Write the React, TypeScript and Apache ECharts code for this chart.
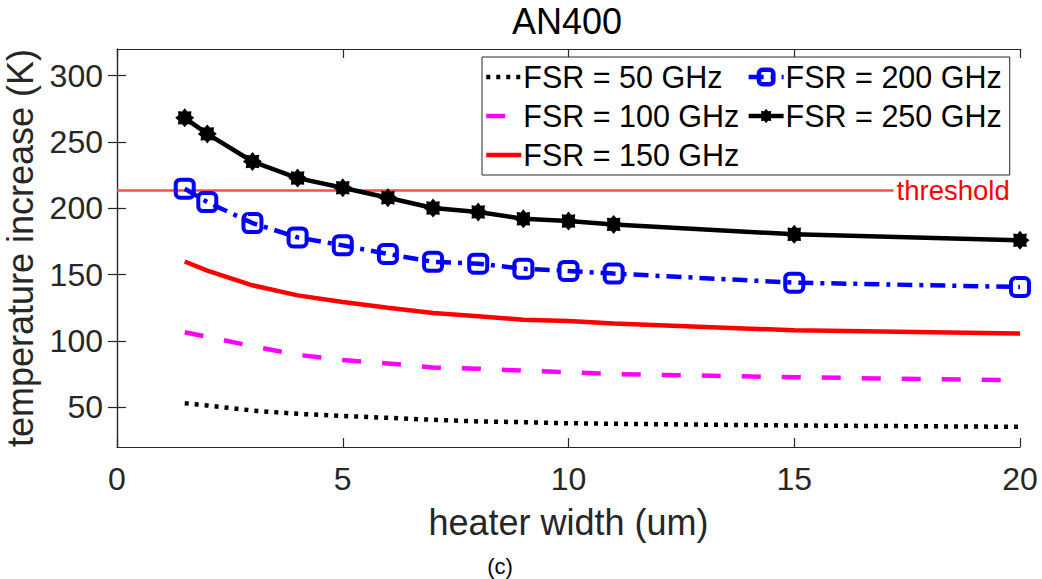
import React, { useEffect, useRef } from "react";
import * as echarts from "echarts";

const widths = [1.5, 2, 3, 4, 5, 6, 7, 8, 9, 10, 11, 15, 20];
const fsr50 = [53, 51.3, 47.5, 45, 43.4, 42, 40.5, 39.3, 38.7, 37.9, 37.5, 36.2, 35.2];
const fsr100 = [106.5, 103, 96, 89.5, 85.5, 83, 80, 79, 77.5, 76.4, 75, 72.6, 70.3];
const fsr150 = [159.8, 153, 141.9, 134.3, 129.3, 125, 121, 118.5, 116, 115, 113, 108, 105.5];
const fsr200 = [214.7, 204.6, 188.8, 178, 172, 165.5, 159.6, 158.2, 154.4, 152.7, 150.7, 143.9, 140.6];
const fsr250 = [268.1, 256, 235.2, 222.7, 215.4, 207.9, 200.1, 197.1, 192, 190.3, 187.8, 180.3, 175.8];
const thresholdValue = 213.3;
const thresholdEnd = 17.2;
const xTicks = [0, 5, 10, 15, 20];
const yTicks = [50, 100, 150, 200, 250, 300];
const seriesNames = ["FSR = 50 GHz", "FSR = 100 GHz", "FSR = 150 GHz", "FSR = 200 GHz", "FSR = 250 GHz"];

const FONT = "'Liberation Sans', Arial, Helvetica, sans-serif";
const AXIS_COLOR = "#262626";

const starPath = (() => {
  const pts: string[] = [];
  for (let k = 0; k < 16; k++) {
    const a = (k * Math.PI) / 8;
    const r = k % 2 === 0 ? 10 : 7.2;
    pts.push(`${(10 + r * Math.cos(a)).toFixed(2)} ${(10 + r * Math.sin(a)).toFixed(2)}`);
  }
  return "path://M" + pts.join(" L") + " Z";
})();

const pair = (ys: number[]) => widths.map((x, i) => [x, ys[i]]);

export default function App() {
  const ref = useRef<HTMLDivElement>(null);
  useEffect(() => {
    document.body.style.margin = "0";
    if (!ref.current) return;
    const chart = echarts.init(ref.current, undefined, { renderer: "svg" });
    const axisLine = { show: true, lineStyle: { color: AXIS_COLOR, width: 1.2 } };
    const tick = { show: true, inside: true, length: 9, lineStyle: { color: AXIS_COLOR, width: 1.2 } };
    const legendLineTypes: any[] = [[4, 6], [19, 21], "solid", [15, 7, 4, 7], "solid"];
    chart.setOption({
      animation: false,
      backgroundColor: "#ffffff",
      grid: { left: 117, right: 22, top: 49, bottom: 132, containLabel: false, outerBoundsMode: "none" },
      graphic: [
        {
          type: "text",
          x: 567,
          y: 21,
          style: { text: "AN400", font: `36px ${FONT}`, fill: "#000", textAlign: "center", textVerticalAlign: "middle" },
        },
        {
          type: "text",
          x: 500,
          y: 566,
          style: { text: "(c)", font: `22px ${FONT}`, fill: "#000", textAlign: "center", textVerticalAlign: "middle" },
        },
      ],
      legend: {
        data: seriesNames.map((name, i) => {
          const item: any = { name, lineStyle: { width: 4.5, type: legendLineTypes[i] } };
          if (i < 3) item.itemStyle = { opacity: 0 };
          if (i === 3) item.itemStyle = { borderWidth: 4.5 };
          return item;
        }),
        orient: "vertical",
        left: 482,
        top: 57,
        height: 118,
        padding: [4, 8, 4, 2],
        itemGap: 7,
        itemWidth: 35,
        itemHeight: 18,
        borderColor: "#262626",
        borderWidth: 1,
        backgroundColor: "#ffffff",
        textStyle: { fontSize: 30.5, fontFamily: FONT, color: "#000", lineHeight: 32, padding: [0, 0, 0, -3] },
      },
      xAxis: [
        {
          type: "value",
          min: 0,
          max: 20,
          interval: 5,
          position: "bottom",
          name: "heater width (um)",
          nameLocation: "middle",
          nameGap: 57,
          nameTextStyle: { fontSize: 36, fontFamily: FONT, color: AXIS_COLOR },
          axisLine,
          axisTick: tick,
          splitLine: { show: false },
          axisLabel: { fontSize: 32, fontFamily: FONT, color: AXIS_COLOR, margin: 16 },
        },
        {
          type: "value",
          min: 0,
          max: 20,
          interval: 5,
          position: "top",
          axisLine,
          axisTick: tick,
          splitLine: { show: false },
          axisLabel: { show: false },
        },
      ],
      yAxis: [
        {
          type: "value",
          min: 20,
          max: 320,
          position: "left",
          name: "temperature increase (K)",
          nameLocation: "middle",
          nameGap: 79,
          nameTextStyle: { fontSize: 36, fontFamily: FONT, color: AXIS_COLOR },
          axisLine,
          axisTick: { ...tick, customValues: yTicks },
          splitLine: { show: false },
          axisLabel: { fontSize: 32, fontFamily: FONT, color: AXIS_COLOR, margin: 14, customValues: yTicks },
        },
        {
          type: "value",
          min: 20,
          max: 320,
          position: "right",
          axisLine,
          axisTick: { ...tick, customValues: yTicks },
          splitLine: { show: false },
          axisLabel: { show: false, customValues: yTicks },
        },
      ],
      series: [
        {
          name: "threshold",
          type: "line",
          data: [
            [xTicks[0], thresholdValue],
            [thresholdEnd, thresholdValue],
          ],
          symbol: "none",
          silent: true,
          lineStyle: { color: "#ff4b4b", width: 2.5 },
          endLabel: {
            show: true,
            formatter: "threshold",
            color: "#ff0000",
            fontSize: 27.5,
            fontFamily: FONT,
            distance: 3,
          },
          z: 1,
        },
        {
          name: seriesNames[0],
          type: "line",
          data: pair(fsr50),
          symbol: "none",
          itemStyle: { color: "#000000" },
          lineStyle: { color: "#000000", width: 4.5, type: [4, 6] },
        },
        {
          name: seriesNames[1],
          type: "line",
          data: pair(fsr100),
          symbol: "none",
          itemStyle: { color: "#ff00ff" },
          lineStyle: { color: "#ff00ff", width: 4.5, type: [19, 21] },
        },
        {
          name: seriesNames[2],
          type: "line",
          data: pair(fsr150),
          symbol: "none",
          itemStyle: { color: "#ff0000" },
          lineStyle: { color: "#ff0000", width: 4.5 },
        },
        {
          name: seriesNames[3],
          type: "line",
          data: pair(fsr200),
          symbol: "roundRect",
          symbolSize: 18,
          showAllSymbol: true,
          itemStyle: { color: "rgba(255,255,255,0)", borderColor: "#0000ff", borderWidth: 4 },
          lineStyle: { color: "#0000ff", width: 4.5, type: [15, 7, 4, 7] },
        },
        {
          name: seriesNames[4],
          type: "line",
          data: pair(fsr250),
          symbol: starPath,
          symbolSize: 19,
          showAllSymbol: true,
          itemStyle: { color: "#000000" },
          lineStyle: { color: "#000000", width: 4.5 },
        },
      ],
    });
    return () => chart.dispose();
  }, []);
  return <div ref={ref} style={{ width: 1042, height: 579 }} />;
}
